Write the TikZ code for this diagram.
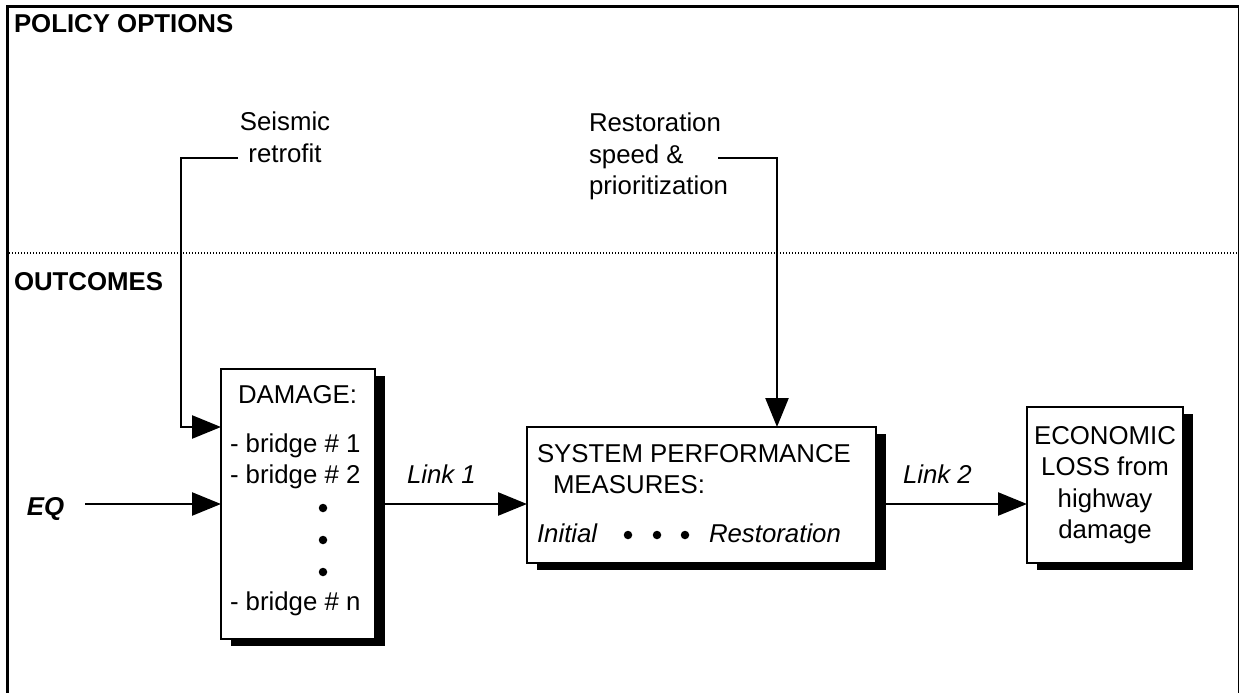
\documentclass[tikz,border=0pt]{standalone}
\usepackage{fontspec}
\setmainfont{Liberation Sans}
\usetikzlibrary{arrows.meta,shadows}
\begin{document}
\begin{tikzpicture}[x=1pt,y=-1pt,
  every node/.style={inner sep=0pt,outer sep=0pt,font=\fontsize{25.8}{31.5}\selectfont},
  box/.style={draw,line width=1.3pt,fill=white,
    drop shadow={shadow xshift=10pt,shadow yshift=-7pt,fill=black,opacity=1}},
  conn/.style={line width=2.5pt},
  arr/.style={conn,-{Triangle[length=29pt,width=23pt]}},
  lbl/.style={anchor=base west},
  head/.style={anchor=base west,font=\fontsize{25.8}{31.5}\selectfont\bfseries},
  dot/.style={fill=black,circle,minimum size=8.5pt},
]
\useasboundingbox (0,0) rectangle (1240,693);
\fill[white] (0,0) rectangle (1240,693);
% frame
\draw[line width=3.5pt] (7.5,693) -- (7.5,6.5);
\draw[line width=3pt] (6,6.5) -- (1238.5,6.5);
\draw[line width=1.6pt] (1238.5,6) -- (1238.5,693);
\draw[line width=1.1pt,dash pattern=on 1pt off 2pt] (9,253) -- (1238,253);
% headings
\node[head] (pol) at (14,33) {POLICY OPTIONS};
\node[head] (out) at (14,290) {OUTCOMES};
% boxes
\node[box,minimum width=154pt,minimum height=270pt] (dmg) at (298,504) {};
\node[box,minimum width=349pt,minimum height=136pt] (sys) at (701.5,495) {};
\node[box,minimum width=156pt,minimum height=156pt] (eco) at (1105,485) {};
% damage text
\node[lbl] (dt) at (238,403) {DAMAGE:};
\node[lbl] (b1) at (230,452) {- bridge \# 1};
\node[lbl] (b2) at (230,483) {- bridge \# 2};
\node[dot] (d1) at (323,508) {};
\node[dot] (d2) at (323,540) {};
\node[dot] (d3) at (323,572) {};
\node[lbl] (bn) at (230,610) {- bridge \# n};
% system text
\node[lbl] (st1) at (537,462) {SYSTEM PERFORMANCE};
\node[lbl] (st2) at (553,493) {MEASURES:};
\node[lbl] (ini) at (537,542) {\itshape Initial};
\node[dot] (e1) at (628,535) {};
\node[dot] (e2) at (657,535) {};
\node[dot] (e3) at (685,535) {};
\node[lbl] (res) at (709,542) {\itshape Restoration};
% economic text
\node[anchor=north,align=center] (et) at (1105,426) {ECONOMIC\\LOSS from\\highway\\damage};
% policy labels
\node[anchor=north,align=center] (seis) at (285,112) {Seismic\\retrofit};
\node[anchor=north west,align=left] (rest) at (589,113) {Restoration\\speed \&\\prioritization};
% EQ
\node[anchor=base west,font=\fontsize{25.8}{31.5}\selectfont\bfseries\itshape] (eq) at (27,515) {EQ};
% links
\node[lbl] (l1) at (407,483) {\itshape Link 1};
\node[lbl] (l2) at (903,483) {\itshape Link 2};
% connectors
\coordinate (eqs) at (85,504);
\coordinate (sa) at (238,158);
\coordinate (sb) at (181,427);
\coordinate (ra) at (718,158);
\coordinate (rt) at (777,427);
\draw[arr] (eqs) -- (eqs -| dmg.west);
\draw[arr] (sa) -| (sb) -- (sb -| dmg.west);
\draw[arr] (ra) -| (rt);
\draw[arr] (dmg.east |- 0,504) -- (sys.west |- 0,504);
\draw[arr] (sys.east |- 0,504) -- (eco.west |- 0,504);
\end{tikzpicture}
\end{document}
